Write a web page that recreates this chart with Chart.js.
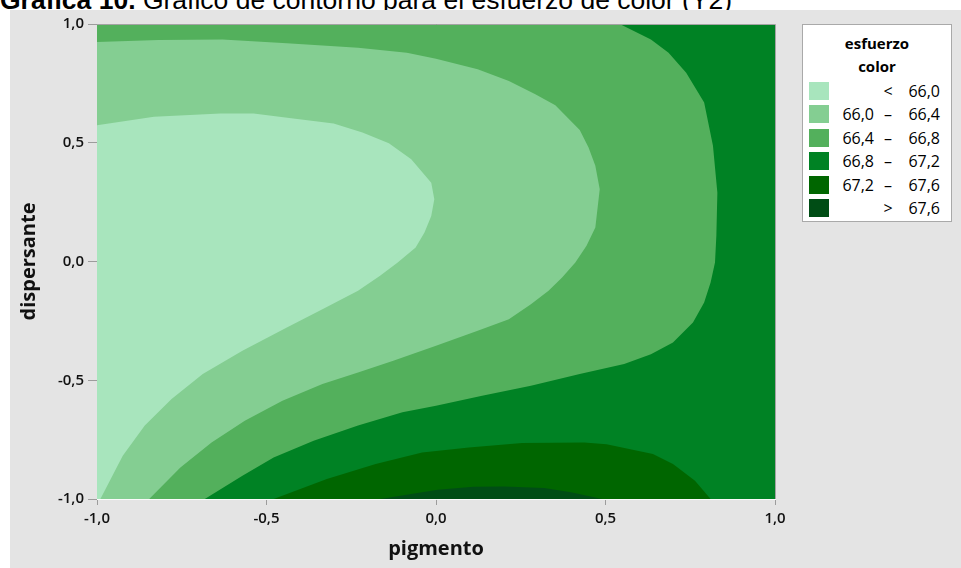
<!DOCTYPE html>
<html lang="es">
<head>
<meta charset="utf-8">
<title>Gráfico de contorno – esfuerzo de color</title>
<script src="https://cdn.jsdelivr.net/npm/chart.js@4.4.1/dist/chart.umd.min.js"></script>
<style>
  html, body { margin: 0; padding: 0; background: #ffffff; }
  body { width: 961px; height: 568px; position: relative; overflow: hidden; }
  #titulo {
    position: absolute; left: 0; top: -13px; margin: 0; line-height: 26px;
    font: 26.5px/26px "Liberation Sans", Arial, sans-serif; color: #000; white-space: nowrap;
  }
  #titulo b { font-weight: bold; }
  #panel { position: absolute; left: 10px; top: 10px; right: 0; bottom: 0; background: #e4e4e4; }
  #grafico { position: absolute; left: 0; top: 0; }
  #leyenda {
    position: absolute; left: 802px; top: 24px; width: 148px; height: 196px;
    background: #ffffff; border: 1px solid #a9a9a9; font-family: "Open Sans", sans-serif; color: #000;
  }
  #leyenda .tit { position: absolute; left: 0; width: 100%; text-align: center; font-weight: bold; font-size: 15px; }
  #leyenda .fila { position: absolute; left: 6px; width: 136px; height: 18px; font-size: 16px; line-height: 18px; }
  #leyenda .cuadro { position: absolute; left: 0; top: 0; width: 20px; height: 18px; }
  #leyenda .a { position: absolute; right: 71px; top: 0; }
  #leyenda .g { position: absolute; left: 72px; top: 0; width: 14px; text-align: center; }
  #leyenda .b { position: absolute; right: 5px; top: 0; }
</style>
</head>
<body>
<div id="titulo"><b>Gráfica 10.</b> Gráfico de contorno para el esfuerzo de color (Y2)</div>
<div id="panel"></div>
<canvas id="grafico" width="961" height="568"></canvas>
<div id="leyenda"></div>
<script>
// Contour levels of "esfuerzo color" and their fill colours (light -> dark)
const levelFrom  = ['',     '66,0', '66,4', '66,8', '67,2', ''];
const levelSign  = ['<',    '–',    '–',    '–',    '–',    '>'];
const levelTo    = ['66,0', '66,4', '66,8', '67,2', '67,6', '67,6'];
const levelColor = ['#a8e5bd', '#84ce92', '#53b05c', '#008224', '#006600', '#004d15'];

// Axis ticks (pigmento / dispersante, coded units)
const xTicks = [-1, -0.5, 0, 0.5, 1];
const yTicks = [-1, -0.5, 0, 0.5, 1];

// Contour lines as [pigmento, dispersante] pairs
const c660 = [[-1,0.574],[-0.832,0.610],[-0.636,0.623],[-0.538,0.623],[-0.427,0.603],[-0.302,0.581],
  [-0.217,0.543],[-0.139,0.498],[-0.073,0.431],[-0.014,0.332],[-0.005,0.262],[-0.014,0.192],
  [-0.034,0.122],[-0.060,0.059],[-0.113,-0.004],[-0.165,-0.060],[-0.230,-0.123],[-0.335,-0.201],
  [-0.440,-0.278],[-0.571,-0.376],[-0.688,-0.474],[-0.780,-0.579],[-0.859,-0.691],[-0.924,-0.818],[-0.990,-1]];
const c664 = [[-1,0.924],[-0.819,0.933],[-0.630,0.935],[-0.440,0.919],[-0.230,0.900],[-0.086,0.879],
  [0,0.854],[0.123,0.809],[0.215,0.760],[0.293,0.704],[0.352,0.658],[0.424,0.554],[0.450,0.480],
  [0.470,0.403],[0.483,0.304],[0.470,0.143],[0.444,0.066],[0.411,-0.004],[0.372,-0.067],[0.332,-0.123],
  [0.280,-0.180],[0.215,-0.243],[0.123,-0.292],[0,-0.355],[-0.126,-0.418],[-0.230,-0.467],[-0.335,-0.516],
  [-0.453,-0.586],[-0.564,-0.670],[-0.662,-0.762],[-0.754,-0.867],[-0.846,-1]];
const c668 = [[0.542,1],[0.634,0.935],[0.686,0.879],[0.738,0.795],[0.791,0.669],[0.817,0.487],
  [0.830,0.290],[0.827,0.108],[0.823,-0.004],[0.810,-0.088],[0.791,-0.173],[0.758,-0.257],[0.699,-0.341],
  [0.634,-0.390],[0.555,-0.432],[0.424,-0.474],[0.280,-0.523],[0.136,-0.565],[0,-0.607],[-0.099,-0.635],
  [-0.230,-0.691],[-0.361,-0.755],[-0.479,-0.825],[-0.571,-0.902],[-0.682,-1]];
const c672 = [[-0.479,-1],[-0.322,-0.916],[-0.178,-0.853],[-0.041,-0.804],[0.097,-0.783],[0.254,-0.764],
  [0.437,-0.762],[0.503,-0.769],[0.640,-0.811],[0.699,-0.853],[0.764,-0.923],[0.810,-1]];
const c676 = [[-0.165,-1],[-0.073,-0.979],[0.005,-0.961],[0.110,-0.948],[0.202,-0.947],[0.319,-0.954],
  [0.398,-0.972],[0.490,-1]];

const X_MIN = -1, X_MAX = 1, Y_MIN = -1, Y_MAX = 1;

// Superlevel region of each contour: the line, closed along the plot frame
const toPts = arr => arr.map(([x, y]) => ({ x, y }));
const regions = [
  toPts([[X_MIN,Y_MIN],[X_MAX,Y_MIN],[X_MAX,Y_MAX],[X_MIN,Y_MAX]]),
  toPts(c660.concat([[X_MAX,Y_MIN],[X_MAX,Y_MAX],[X_MIN,Y_MAX]])),
  toPts(c664.concat([[X_MAX,Y_MIN],[X_MAX,Y_MAX],[X_MIN,Y_MAX]])),
  toPts(c668.concat([[X_MAX,Y_MIN],[X_MAX,Y_MAX]])),
  toPts(c672),
  toPts(c676)
];

const fmt = v => v.toFixed(1).replace('.', ',');

const datasets = regions.map((pts, i) => ({
  label: (levelFrom[i] ? levelFrom[i] + ' ' : '') + levelSign[i] + ' ' + levelTo[i],
  data: pts,
  showLine: true,
  fill: 'shape',
  backgroundColor: levelColor[i],
  borderColor: levelColor[i],
  borderWidth: 0,
  pointRadius: 0,
  tension: 0,
  order: regions.length - i
}));

// Grey frame on the top and right sides of the plot area
const frameSides = {
  id: 'frameSides',
  afterDraw(chart) {
    const { ctx, chartArea: a } = chart;
    ctx.save();
    ctx.strokeStyle = '#a3a3a3';
    ctx.lineWidth = 1;
    ctx.beginPath();
    ctx.moveTo(a.left, a.top + 0.5);
    ctx.lineTo(a.right + 0.5, a.top + 0.5);
    ctx.lineTo(a.right + 0.5, a.bottom);
    ctx.stroke();
    ctx.restore();
  }
};

const tickFont = { family: '"Open Sans", sans-serif', size: 15, weight: '600' };
const titleFont = { family: '"Open Sans", sans-serif', size: 20, weight: 'bold' };
const zeroGrid = c => (c.tick && c.tick.value === 0) ? 'rgba(255,255,255,0.35)' : 'rgba(0,0,0,0)';

new Chart(document.getElementById('grafico'), {
  type: 'scatter',
  data: { datasets },
  options: {
    responsive: false,
    devicePixelRatio: 1,
    animation: false,
    layout: { padding: { left: 0, top: 24, right: 186, bottom: 0 } },
    plugins: { legend: { display: false }, tooltip: { enabled: false } },
    scales: {
      x: {
        type: 'linear', min: X_MIN, max: X_MAX, z: 1,
        afterBuildTicks: s => { s.ticks = xTicks.map(v => ({ value: v })); },
        afterFit: s => { s.height = 69; },
        ticks: { callback: v => fmt(v), font: tickFont, color: '#111', padding: 5, maxRotation: 0 },
        grid: { color: zeroGrid, tickColor: '#9c9c9c', tickLength: 6, lineWidth: 1 },
        border: { color: 'rgba(255,255,255,0.85)', width: 1 },
        title: { display: true, text: 'pigmento', font: titleFont, color: '#111', padding: { top: 0, bottom: 7 } }
      },
      y: {
        type: 'linear', min: Y_MIN, max: Y_MAX, z: 1,
        afterBuildTicks: s => { s.ticks = yTicks.map(v => ({ value: v })); },
        afterFit: s => { s.width = 97; },
        ticks: { callback: v => fmt(v), font: tickFont, color: '#111', padding: 4 },
        grid: { color: zeroGrid, tickColor: '#9c9c9c', tickLength: 9, lineWidth: 1 },
        border: { color: 'rgba(255,255,255,0.85)', width: 1 },
        title: { display: true, text: 'dispersante', font: titleFont, color: '#111', padding: { top: 17, bottom: 0 } }
      }
    }
  },
  plugins: [frameSides]
});

// Legend box
const ley = document.getElementById('leyenda');
let html = '<div class="tit" style="top:8px">esfuerzo</div><div class="tit" style="top:31px">color</div>';
levelColor.forEach((col, i) => {
  const top = 57 + i * 23.4;
  html += '<div class="fila" style="top:' + top + 'px">' +
    '<div class="cuadro" style="background:' + col + '"></div>' +
    '<span class="a">' + levelFrom[i] + '</span>' +
    '<span class="g">' + levelSign[i] + '</span>' +
    '<span class="b">' + levelTo[i] + '</span></div>';
});
ley.innerHTML = html;
</script>
</body>
</html>
